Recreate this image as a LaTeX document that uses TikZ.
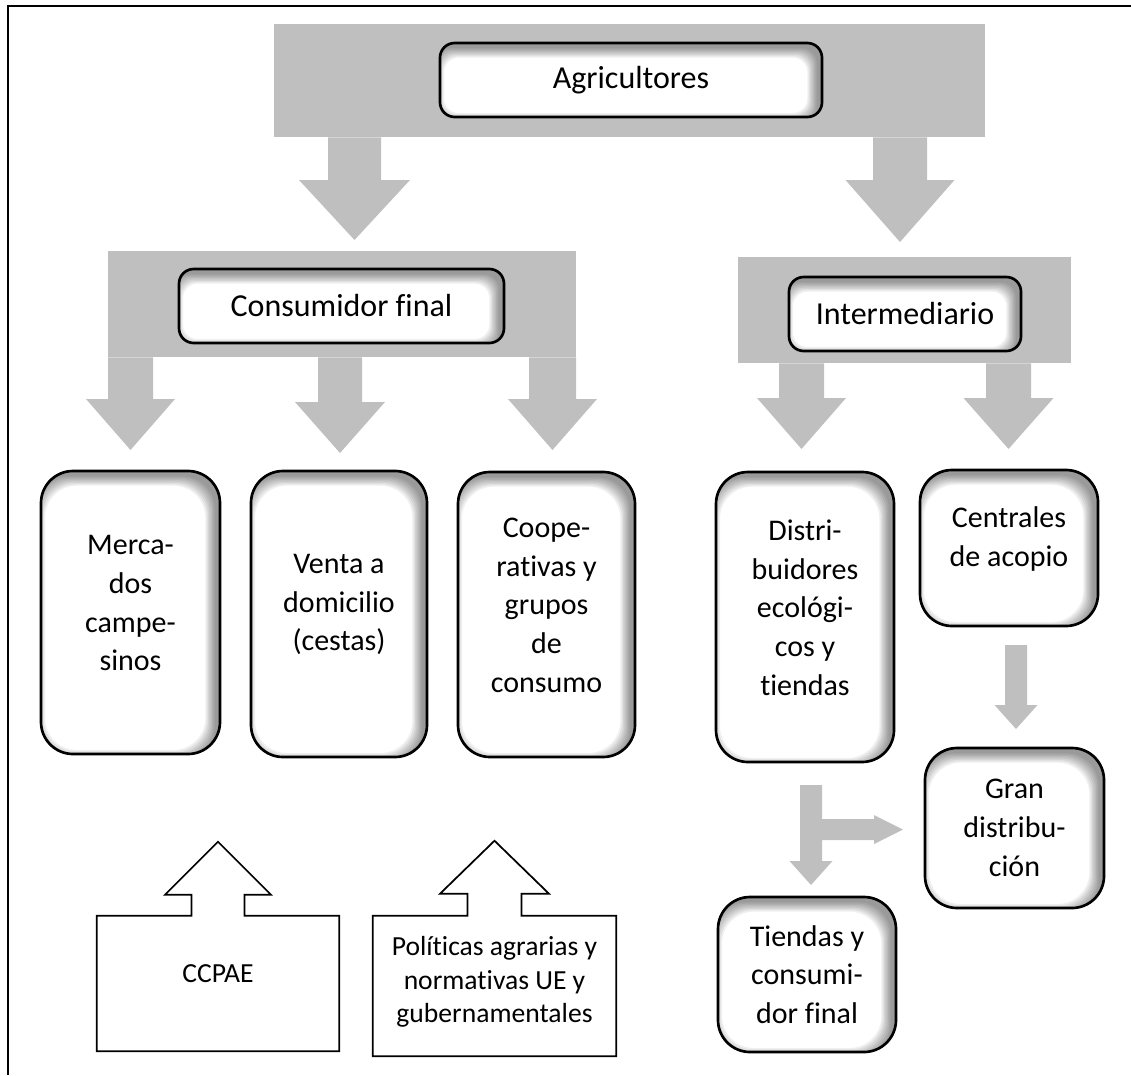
\documentclass[tikz,border=0pt]{standalone}
\usepackage{fontspec}
\setmainfont{Carlito}[Ligatures=CommonOff]
\usetikzlibrary{calc,positioning}
\definecolor{bandgray}{RGB}{191,191,191}
\tikzset{
  inshadow/.style={
    path picture={
      \foreach \k in {0,...,7}{
        \fill[black, opacity=0.06, even odd rule, rounded corners=#1]
          ([shift={(-20pt,20pt)}]path picture bounding box.north west) rectangle ([shift={(20pt,-20pt)}]path picture bounding box.south east)
          ([shift={({\k*1pt-4pt},{-4pt-\k*1pt})}]path picture bounding box.north west) rectangle ([shift={({-4pt-\k*1pt},{\k*1pt-4pt})}]path picture bounding box.south east);
      }
    }
  },
  band/.style={
    rectangle,
    fill=bandgray,
    inner sep=0pt
  },
  headbox/.style={
    rectangle,
    draw=black,
    line width=2pt,
    fill=white,
    rounded corners=11pt,
    inner sep=0pt,
    font=\fontsize{24}{28}\selectfont,
    inshadow=11pt
  },
  tallbox/.style={
    rectangle,
    draw=black,
    line width=2pt,
    fill=white,
    rounded corners=24pt,
    inner sep=0pt,
    align=center,
    font=\fontsize{22.5}{29}\selectfont,
    inshadow=24pt
  },
  boxtext/.style={
    align=center,
    inner sep=0pt,
    font=\fontsize{22.5}{29}\selectfont
  },
  callbox/.style={
    rectangle,
    inner sep=0pt
  },
  calltext/.style={
    align=center,
    inner sep=0pt,
    font=\fontsize{20.7}{25}\selectfont
  },
  callout/.style={
    draw=black,
    line width=1.3pt,
    line join=miter
  }
}
% gray block arrow pointing down: from band #1 to tip #2
\newcommand{\downblock}[5]{%
  \fill[bandgray] ($(#2 |- #1)+(-#3,0)$) -- ($(#2 |- #1)+(#3,0)$)
    -- ($(#2)+(#3,-#5)$) -- ($(#2)+(#4,-#5)$) -- (#2)
    -- ($(#2)+(-#4,-#5)$) -- ($(#2)+(-#3,-#5)$) -- cycle;
}
% gray block arrow pointing right
\newcommand{\rightblock}[5]{%
  \fill[bandgray] ($(#1 |- #2)+(0,-#3)$) -- ($(#2)+(-#5,-#3)$)
    -- ($(#2)+(-#5,-#4)$) -- (#2) -- ($(#2)+(-#5,#4)$)
    -- ($(#2)+(-#5,#3)$) -- ($(#1 |- #2)+(0,#3)$) -- cycle;
}
% white box with an arrow on top
\newcommand{\upcallout}[5]{%
  \draw[callout] (#1.south west) -- (#1.north west) -- ($(#1.north)+(-#2,0)$)
    -- ($(#1.north)+(-#2,-#4)$) -- ($(#1.north)+(-#3,-#4)$) -- ($(#1.north)+(0,-#5)$)
    -- ($(#1.north)+(#3,-#4)$) -- ($(#1.north)+(#2,-#4)$) -- ($(#1.north)+(#2,0)$)
    -- (#1.north east) -- (#1.south east) -- cycle;
}

\begin{document}
\begin{tikzpicture}[x=0.75pt, y=-0.75pt]
  \useasboundingbox (0,0) rectangle (1131,1075);

  % Frame
  \draw[line width=1.6pt] (1131,6) -- (8,6) -- (8,1075);

  % Gray bands
  \node[band, minimum width=533.25pt, minimum height=84.75pt] (topband) at (629.5,80.5) {};
  \node[band, minimum width=351pt, minimum height=79.5pt] (consband) at (342,304) {};
  \node[band, minimum width=249.75pt, minimum height=79.5pt] (intband) at (904.5,310) {};

  % Arrow tips
  \coordinate (a1) at (354.5,240);
  \coordinate (a2) at (900,242);
  \coordinate (b1) at (130.5,450);
  \coordinate (b2) at (340,453);
  \coordinate (b3) at (552.5,450);
  \coordinate (c1) at (801.5,449);
  \coordinate (c2) at (1008.5,449);
  \coordinate (d0) at (1016,645);
  \coordinate (d1) at (1016,729);
  \coordinate (e0) at (811,785);
  \coordinate (e1) at (811,885);
  \coordinate (f1) at (903,829.5);

  % Block arrows
  \downblock{topband.south}{a1}{26.5}{55.5}{60}
  \downblock{topband.south}{a2}{27}{54.5}{62}
  \downblock{consband.south}{b1}{22.5}{44.5}{51}
  \downblock{consband.south}{b2}{22}{45}{51}
  \downblock{consband.south}{b3}{23.5}{44.5}{51}
  \downblock{intband.south}{c1}{22.5}{44.5}{51}
  \downblock{intband.south}{c2}{22.5}{45}{51}
  \downblock{d0}{d1}{11}{21.5}{24}
  \downblock{e0}{e1}{11}{21.5}{24}
  \rightblock{e0}{f1}{10.5}{14.5}{29}

  % Heading boxes
  \node[headbox, minimum width=286.5pt, minimum height=55.5pt] (agri) at (631,80) {Agricultores};
  \node[headbox, minimum width=243.75pt, minimum height=55.5pt] (cons) at (341.5,306) {Consumidor final};
  \node[headbox, minimum width=174pt, minimum height=55.5pt] (inter) at (905,314) {Intermediario};

  % Channel boxes
  \node[tallbox, minimum width=134.25pt, minimum height=212.25pt] (merc) at (130.5,612.5) {};
  \node[tallbox, minimum width=132pt, minimum height=214.5pt] (venta) at (339,614) {};
  \node[tallbox, minimum width=132.75pt, minimum height=213.75pt] (coop) at (546.5,614.5) {};
  \node[tallbox, minimum width=133.5pt, minimum height=217.5pt] (distri) at (805,617) {};
  \node[tallbox, minimum width=133.5pt, minimum height=117pt] (centr) at (1009,548) {};
  \node[boxtext] (merc-t) at ([yshift=7pt]merc.center) {Merca-\\dos\\campe-\\sinos};
  \node[boxtext] (venta-t) at ([yshift=7pt]venta.center) {Venta a\\domicilio\\(cestas)};
  \node[boxtext] (coop-t) at ([yshift=7pt]coop.center) {Coope-\\rativas y\\grupos\\de\\consumo};
  \node[boxtext] (distri-t) at ([yshift=7pt]distri.center) {Distri-\\buidores\\ecológi-\\cos y\\tiendas};
  \node[boxtext] (centr-t) at ([yshift=7pt]centr.center) {Centrales\\de acopio};
  \node[tallbox, minimum width=134.25pt, minimum height=120pt] (gran) at (1014.5,828) {Gran\\distribu-\\ción};
  \node[tallbox, minimum width=133.5pt, minimum height=116.25pt] (tiend) at (807,974.5) {Tiendas y\\consumi-\\dor final};

  % Influences
  \node[callbox, minimum width=181.5pt, minimum height=101.25pt] (ccpae) at (218,983.5) {};
  \node[callbox, minimum width=182.25pt, minimum height=105pt] (polit) at (494.5,986) {};
  \upcallout{ccpae}{26.5}{53}{21}{74}
  \upcallout{polit}{27}{54.5}{22}{75}
  \node[calltext] (ccpae-t) at ([yshift=7.5pt]ccpae.center) {CCPAE};
  \node[calltext] (polit-t) at ([yshift=3pt]polit.center) {Políticas agrarias y\\normativas UE y\\gubernamentales};
\end{tikzpicture}
\end{document}
